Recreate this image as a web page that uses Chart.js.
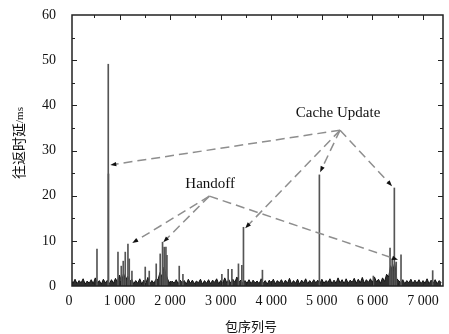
<!DOCTYPE html>
<html>
<head>
<meta charset="utf-8">
<script src="https://cdn.jsdelivr.net/npm/chart.js@4/dist/chart.umd.min.js"></script>
<style>
  html, body { margin: 0; padding: 0; background: #fff; }
  #wrap { width: 449px; height: 334px; }
</style>
</head>
<body>
<div id="wrap"><canvas id="rtt" width="449" height="334"></canvas></div>
<script>
// baseline RTT, one reading every 40 packets (ms)
const baseStep = 40;
const baseline = [
  0.4,1.3,0.6,1.5,0.5,1.2,0.7,1.6,0.4,1.1,0.6,1.4,0.5,1.8,0.6,1.2,0.4,1.5,0.7,1.3,
  0.5,1.4,0.6,1.7,0.8,2.4,1.0,2.8,1.2,2.2,0.9,1.5,0.5,1.2,0.6,1.6,0.4,1.3,0.6,1.9,
  0.5,1.2,0.6,1.5,1.4,3.0,2.0,4.2,2.5,1.3,0.5,1.1,0.6,1.4,0.5,1.3,0.7,1.2,0.4,1.5,
  0.6,1.3,0.5,1.1,0.7,1.5,0.4,1.2,0.6,1.4,0.5,1.3,0.8,1.6,0.5,1.2,0.6,1.8,0.7,1.4,
  0.6,1.5,0.8,2.0,0.9,1.3,0.5,1.2,0.6,1.4,0.5,1.3,0.7,1.1,0.5,1.6,0.6,1.2,0.4,1.3,
  0.6,1.5,0.5,1.2,0.7,1.4,0.5,1.3,0.6,1.7,0.5,1.2,0.6,1.5,0.4,1.3,0.7,1.6,0.5,1.2,
  0.6,1.4,0.7,1.3,0.5,1.5,0.6,1.2,0.8,1.6,0.5,1.3,0.6,1.8,0.7,1.4,0.5,1.6,0.6,1.3,
  0.8,1.7,0.6,1.5,0.7,1.9,0.6,1.4,0.8,1.6,0.7,2.0,0.9,1.5,0.6,1.8,1.0,2.6,2.0,4.5,
  3.2,5.2,1.6,1.2,0.6,1.4,0.5,1.2,0.7,1.5,0.5,1.3,0.6,1.4,0.5,1.2,0.6,1.6,0.5,1.3,
  0.6,1.4,0.5,1.2,0.7
];

// single-packet spikes (packet no., ms)
const spikeX = [554, 777, 781, 969, 1034, 1073, 1113, 1166, 1192, 1245, 1508, 1587,
  1725, 1804, 1850, 1883, 1917, 1937, 2180, 2253, 3023, 3148, 3221, 3351, 3418, 3450,
  3825, 4951, 6018, 6348, 6390, 6433, 6470, 6565, 7191];
const spikeY = [8.2, 49.1, 24.8, 7.5, 4.4, 5.5, 7.5, 9.3, 6.0, 3.3, 4.2, 3.3,
  4.9, 7.1, 9.7, 8.6, 8.6, 6.8, 4.4, 2.6, 2.6, 3.7, 3.7, 4.9, 4.6, 13.0,
  3.5, 24.6, 2.2, 8.4, 6.0, 21.7, 5.3, 6.9, 3.4];

const xTicks = [0, 1000, 2000, 3000, 4000, 5000, 6000, 7000];
const yTicks = [0, 10, 20, 30, 40, 50, 60];

// annotations (data units)
const cacheText = "Cache Update";
const cacheTextAt = [5320, 38.3];
const cacheHub = [5360, 34.5];
const cacheToX = [817, 3484, 4965, 6388];
const cacheToY = [26.8, 12.8, 25.2, 22.1];

const handoffText = "Handoff";
const handoffTextAt = [2792, 22.6];
const handoffHub = [2776, 19.9];
const handoffToX = [1251, 1864, 6505];
const handoffToY = [9.5, 9.7, 5.8];

const basePoints = baseline.map((v, i) => ({ x: i * baseStep, y: v }));
const spikePoints = spikeX.map((x, i) => ({ x: x, y: spikeY[i] }));

const serif = "'Liberation Serif', 'Times New Roman', serif";
const cjk = "'Noto Sans CJK SC', sans-serif";

const framePlugin = {
  id: "frame",
  afterDatasetsDraw(chart) {
    const c = chart.ctx;
    const a = chart.chartArea;
    const sx = chart.scales.x, sy = chart.scales.y;
    c.save();

    // dashed pointer lines
    function pointer(hub, tx, ty) {
      const hx = sx.getPixelForValue(hub[0]), hy = sy.getPixelForValue(hub[1]);
      tx.forEach((v, i) => {
        const px = sx.getPixelForValue(v), py = sy.getPixelForValue(ty[i]);
        const ang = Math.atan2(py - hy, px - hx);
        c.strokeStyle = "#8e8e8e";
        c.lineWidth = 1.5;
        c.setLineDash([9, 5]);
        c.beginPath();
        c.moveTo(hx, hy);
        c.lineTo(px - Math.cos(ang) * 4, py - Math.sin(ang) * 4);
        c.stroke();
        c.setLineDash([]);
        c.fillStyle = "#111";
        c.beginPath();
        c.moveTo(px, py);
        c.lineTo(px - Math.cos(ang) * 6 - Math.sin(ang) * 2.2, py - Math.sin(ang) * 6 + Math.cos(ang) * 2.2);
        c.lineTo(px - Math.cos(ang) * 6 + Math.sin(ang) * 2.2, py - Math.sin(ang) * 6 - Math.cos(ang) * 2.2);
        c.closePath();
        c.fill();
      });
    }
    pointer(cacheHub, cacheToX, cacheToY);
    pointer(handoffHub, handoffToX, handoffToY);

    c.fillStyle = "#111";
    c.font = "15px " + serif;
    c.textAlign = "center";
    c.textBaseline = "middle";
    c.fillText(cacheText, sx.getPixelForValue(cacheTextAt[0]), sy.getPixelForValue(cacheTextAt[1]));
    c.fillText(handoffText, sx.getPixelForValue(handoffTextAt[0]), sy.getPixelForValue(handoffTextAt[1]));

    // box and inward ticks
    c.strokeStyle = "#222";
    c.lineWidth = 1.5;
    c.strokeRect(a.left, a.top, a.right - a.left, a.bottom - a.top);
    c.lineWidth = 1;
    c.beginPath();
    for (let v = 500; v < sx.max; v += 500) {
      const px = Math.round(sx.getPixelForValue(v)) + 0.5;
      const len = v % 1000 === 0 ? 5 : 3;
      c.moveTo(px, a.bottom); c.lineTo(px, a.bottom - len);
      c.moveTo(px, a.top); c.lineTo(px, a.top + len);
    }
    for (let v = 5; v < sy.max; v += 5) {
      const py = Math.round(sy.getPixelForValue(v)) + 0.5;
      const len = v % 10 === 0 ? 5 : 3;
      c.moveTo(a.left, py); c.lineTo(a.left + len, py);
      c.moveTo(a.right, py); c.lineTo(a.right - len, py);
    }
    c.stroke();

    // axis titles
    c.font = "13px " + cjk;
    c.textAlign = "center";
    c.fillText("包序列号", 251, 326);

    c.translate(18.5, 143);
    c.rotate(-Math.PI / 2);
    c.font = "14px " + cjk;
    const w1 = c.measureText("往返时延").width;
    c.font = "11px " + serif;
    const w2 = c.measureText("/ms").width;
    const start = -(w1 + w2) / 2;
    c.textAlign = "left";
    c.font = "14px " + cjk;
    c.fillText("往返时延", start, 0);
    c.font = "11px " + serif;
    c.fillText("/ms", start + w1, 2);
    c.restore();
  }
};

new Chart(document.getElementById("rtt"), {
  type: "line",
  data: {
    datasets: [
      {
        type: "bar",
        data: spikePoints,
        backgroundColor: "#555",
        barThickness: 1,
        borderWidth: 0
      },
      {
        data: basePoints,
        borderColor: "#111",
        backgroundColor: "rgba(0,0,0,0.82)",
        fill: "origin",
        borderWidth: 1,
        pointRadius: 0,
        tension: 0
      }
    ]
  },
  options: {
    responsive: false,
    animation: false,
    events: [],
    layout: { padding: { top: 15, right: 6, left: 0, bottom: 0 } },
    plugins: { legend: { display: false }, tooltip: { enabled: false } },
    scales: {
      x: {
        type: "linear",
        min: 60,
        max: 7395,
        offset: false,
        grid: { display: false, drawTicks: false, offset: false },
        border: { display: false },
        afterBuildTicks: (s) => { s.ticks = xTicks.map((v) => ({ value: v })); },
        afterFit: (s) => { s.height = 48; s.paddingLeft = 0; s.paddingRight = 0; },
        ticks: {
          color: "#111",
          font: { family: serif, size: 14 },
          padding: 7,
          maxRotation: 0,
          autoSkip: false,
          callback: (v) => (v === 0 ? "0" : v / 1000 + " 000")
        }
      },
      y: {
        min: 0,
        max: 60,
        grid: { display: false, drawTicks: false },
        border: { display: false },
        afterBuildTicks: (s) => { s.ticks = yTicks.map((v) => ({ value: v })); },
        afterFit: (s) => { s.width = 72; s.paddingTop = 0; s.paddingBottom = 0; },
        ticks: {
          color: "#111",
          font: { family: serif, size: 14 },
          padding: 16
        }
      }
    }
  },
  plugins: [framePlugin]
});
</script>
</body>
</html>
